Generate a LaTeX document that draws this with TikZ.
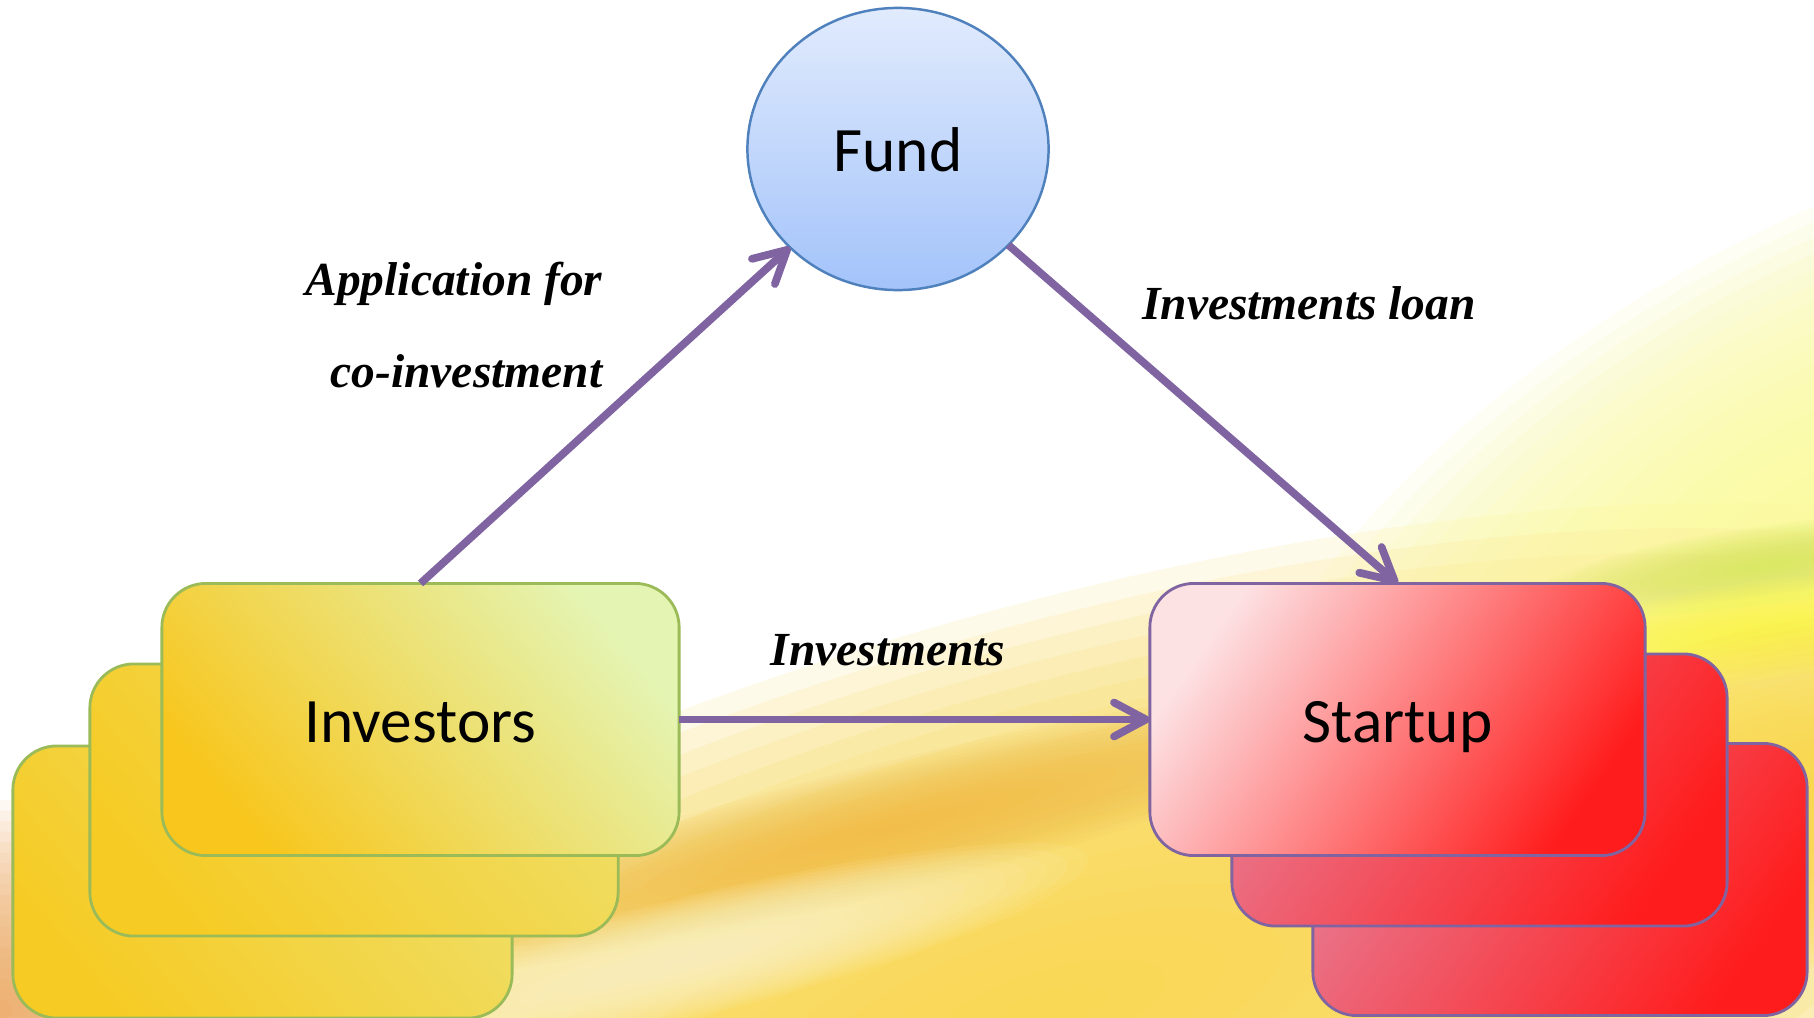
\documentclass[tikz,border=0pt]{standalone}
\usepackage{fontspec}
\setmainfont{Carlito}
\newfontfamily\notefont{Liberation Serif}
\usetikzlibrary{arrows.meta,shapes.geometric}

\definecolor{flow}{HTML}{8064A2}
\definecolor{invline}{HTML}{9BBB59}
\definecolor{invlo}{HTML}{F8C61C}
\definecolor{invback}{HTML}{F6CB24}
\definecolor{invmid}{HTML}{EFDE66}
\definecolor{invhi}{HTML}{E4F4B2}
\definecolor{stline}{HTML}{8064A2}
\definecolor{stlo}{HTML}{FF1C1C}
\definecolor{stsalmon}{HTML}{FF9A9A}
\definecolor{sthi}{HTML}{FDE2E4}
\definecolor{stpink}{HTML}{E8788F}
\definecolor{strose}{HTML}{EE5468}
\definecolor{fundline}{HTML}{4F81BD}
\definecolor{fundhi}{HTML}{E1EBFD}
\definecolor{fundlo}{HTML}{A3C3FA}
\definecolor{bggold}{HTML}{F9D84C}
\definecolor{bgamber}{HTML}{F2BB44}
\definecolor{bgpale}{HTML}{FBFB9C}
\definecolor{bgcream}{HTML}{FFF6CC}
\definecolor{bglime}{HTML}{D6E85A}
\definecolor{bglemon}{HTML}{FFFF48}
\definecolor{bgorange}{HTML}{EEA050}

% soft blob of colour for the backdrop
\NewDocumentCommand{\glow}{mmmmmO{0.07}}{%
\foreach \k in {1,...,20} {%
\pgfmathsetmacro\rx{#2/20*\k}%chktex 1
\pgfmathsetmacro\ry{#3/20*\k}%chktex 1
\fill[#5, opacity=#6, rotate around={#4:(#1)}] (#1) ellipse [x radius=\rx, y radius=\ry];}%chktex 1
}

\tikzset{
  label text/.style={font=\fontsize{18}{22}\selectfont, text height=16.4pt, text depth=3.6pt},
  card/.style={label text, rounded corners=0.44cm, inner sep=0pt, outer sep=0pt,
    minimum height=2.72cm, line width=0.8pt},
  invcard/.style={card, draw=invline, top color=invmid, bottom color=invback, shading angle=-50},
  invfront/.style={card, draw=invline, top color=invhi, middle color=invmid, bottom color=invlo, shading angle=-50},
  stcard/.style={card, draw=stline, top color=stpink, middle color=strose, bottom color=stlo, shading angle=55},
  stfront/.style={card, draw=stline, top color=sthi, middle color=stsalmon, bottom color=stlo, shading angle=55},
  flowarrow/.style={draw=flow, line width=2.2pt, -{Straight Barb[length=3.2mm, width=3.4mm, round]}},
  note/.style={font=\notefont\bfseries\itshape\fontsize{13.5}{26.4}\selectfont, align=right, inner sep=0pt}
}

\begin{document}
\begin{tikzpicture}[x=0.01cm, y=-0.01cm]
\useasboundingbox (0,0) rectangle (1814,1018);
\begin{scope}
\clip (0,0) rectangle (1814,1018);
\fill[white] (0,0) rectangle (1814,1018);
% backdrop
\glow{1050,1010}{1200}{400}{16}{bggold}[0.12]
\glow{1814,520}{640}{280}{30}{bgpale}[0.1]
\glow{880,830}{540}{65}{14}{bgamber}[0.08]
\glow{680,960}{420}{60}{14}{bgcream}[0.09]
\glow{1770,565}{240}{40}{8}{bglime}
\glow{1770,630}{280}{50}{8}{bglemon}[0.09]
\glow{1814,790}{360}{170}{10}{bggold}[0.1]
\glow{0,1010}{260}{210}{0}{bgorange}
\end{scope}

% investor cards
\node[invcard, minimum width=4.99cm] (invBack) at (262.5,882) {};
\node[invcard, minimum width=5.28cm] (invMid) at (354,800) {};
\node[invfront, minimum width=5.17cm] (inv) at (420.5,719.5) {Investors};

% startup cards
\node[stcard, minimum width=4.94cm] (stBack) at (1560,879.5) {};
\node[stcard, minimum width=4.95cm] (stMid) at (1479.5,790) {};
\node[stfront, minimum width=4.95cm] (st) at (1397.5,719.5) {Startup};

\node[ellipse, label text, draw=fundline, line width=0.7pt, top color=fundhi, bottom color=fundlo,
  minimum width=3.01cm, minimum height=2.82cm, inner sep=0pt, outer sep=0pt] (fund) at (898,149) {Fund};

\draw[flowarrow] (inv.north) -- (fund);
\draw[flowarrow] (fund) -- (st.north);
\draw[flowarrow] (inv.east) -- (st.west);

\node[note, anchor=east] (appNote) at (603,325) {Application for\\co-investment};
\node[note] (loanNote) at (1309,303) {Investments loan};
\node[note] (invNote) at (888,650) {Investments};
\end{tikzpicture}
\end{document}
